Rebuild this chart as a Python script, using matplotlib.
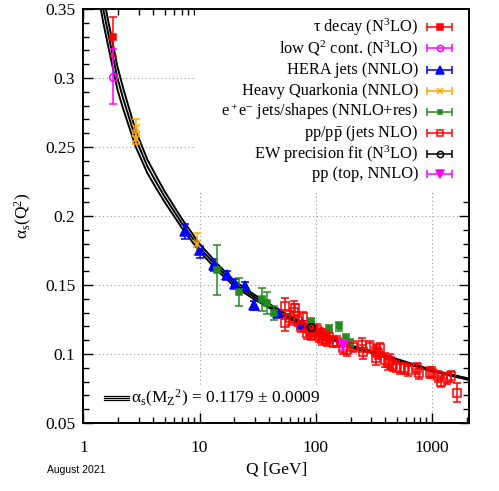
import matplotlib
matplotlib.use("Agg")
import matplotlib.pyplot as plt
from matplotlib.patches import Rectangle

plt.rcParams['font.family'] = ['Liberation Serif', 'DejaVu Serif']
plt.rcParams['mathtext.fontset'] = 'custom'
plt.rcParams['mathtext.rm'] = 'Liberation Serif'
plt.rcParams['mathtext.it'] = 'Liberation Serif:italic'

# running coupling band
curve_q = [1.40, 1.48, 1.6, 1.77, 1.96, 2.2, 2.5, 2.82, 3.2, 3.55, 4.2, 5.0, 7.0, 10, 15,
           20, 30, 50, 91.2, 150, 200, 300, 500, 700, 1000, 1500, 2100]
curve_mid = [0.362, 0.350, 0.336, 0.318, 0.300, 0.285, 0.270, 0.256, 0.245, 0.236, 0.225,
             0.214, 0.195, 0.177, 0.161, 0.151, 0.141, 0.130, 0.1185, 0.110, 0.1055,
             0.1015, 0.0957, 0.0920, 0.0880, 0.0845, 0.0817]
curve_err = [0.0105, 0.0097, 0.0093, 0.0088, 0.0083, 0.0075, 0.0066, 0.0059, 0.0053,
             0.0049, 0.0044, 0.0039, 0.0033, 0.0028, 0.0023, 0.0020, 0.0017, 0.0013,
             0.0010, 0.0009, 0.0008, 0.0007, 0.0007, 0.0006, 0.0006, 0.0005, 0.0005]

# measurements: Q, alpha_s, lower error, upper error
tau_q = [1.78]
tau_a = [0.330]
tau_lo = [0.014]
tau_hi = [0.014]

lowq_q = [1.78]
lowq_a = [0.301]
lowq_lo = [0.020]
lowq_hi = [0.020]

hera_q = [7.5, 10.1, 13.2, 17.3, 20.2, 24.7, 29.5, 47.8, 76]
hera_a = [0.189, 0.1754, 0.1645, 0.157, 0.151, 0.149, 0.1352, 0.130, 0.122]
hera_lo = [0.0055, 0.006, 0.004, 0.003, 0.003, 0.003, 0.003, 0.002, 0.002]
hera_hi = [0.0055, 0.003, 0.004, 0.003, 0.003, 0.003, 0.003, 0.002, 0.002]

quark_q = [2.82, 2.86, 9.46]
quark_a = [0.264, 0.256, 0.180]
quark_lo = [0.006, 0.004, 0.008]
quark_hi = [0.006, 0.004, 0.008]

ee_q = [14.1, 22.0, 34.4, 38, 43.9, 91.2, 131.6, 160, 183, 198]
ee_a = [0.161, 0.145, 0.140, 0.137, 0.1295, 0.123, 0.118, 0.120, 0.1114, 0.108]
ee_lo = [0.018, 0.010, 0.009, 0.008, 0.005, 0.003, 0.003, 0.003, 0.003, 0.003]
ee_hi = [0.018, 0.010, 0.008, 0.008, 0.005, 0.003, 0.003, 0.003, 0.003, 0.003]

pp_q = [54.6, 54.6, 60, 65.3, 66.7, 70, 75.5, 77.7, 84, 88, 92, 95, 102, 107.5, 110,
        113, 120, 125, 131, 140, 152, 171, 185, 210, 249, 254, 296, 331, 331, 348,
        359, 398, 418, 437, 465, 496, 530, 584, 624, 744, 777, 968, 1013, 1145,
        1212, 1360, 1475, 1650]
pp_a = [0.1348, 0.1227, 0.126, 0.1307, 0.1335, 0.124, 0.1198, 0.1266, 0.115, 0.118,
        0.1138, 0.116, 0.1174, 0.113, 0.115, 0.1106, 0.1138, 0.110, 0.1125, 0.109,
        0.109, 0.104, 0.1029, 0.1053, 0.1065, 0.1017, 0.1053, 0.1024, 0.0969, 0.1005,
        0.1041, 0.0957, 0.0933, 0.0951, 0.092, 0.0908, 0.0896, 0.0896, 0.0884, 0.0896,
        0.086, 0.0864, 0.0864, 0.084, 0.0799, 0.0824, 0.084, 0.072]
pp_err = [0.006, 0.006, 0.005, 0.008, 0.003, 0.004, 0.004, 0.004, 0.004, 0.004,
          0.004, 0.004, 0.004, 0.004, 0.004, 0.004, 0.004, 0.004, 0.004, 0.004,
          0.004, 0.004, 0.004, 0.004, 0.005, 0.005, 0.004, 0.004, 0.005, 0.004,
          0.004, 0.005, 0.005, 0.005, 0.004, 0.004, 0.004, 0.004, 0.004, 0.004,
          0.004, 0.004, 0.004, 0.004, 0.004, 0.004, 0.004, 0.007]

ew_q = [91.2]
ew_a = [0.1198]
ew_err = [0.0035]

top_q = [171.6]
top_a = [0.1065]
top_err = [0.0035]

legend_labels = ["τ decay (N$^3$LO)",
                 "low Q$^2$ cont. (N$^3$LO)",
                 "HERA jets (NNLO)",
                 "Heavy Quarkonia (NNLO)",
                 "e$^+$e$^{-}$ jets/shapes (NNLO+res)",
                 r"pp/p$\bar{\rm p}$ (jets NLO)",
                 "EW precision fit (N$^3$LO)",
                 "pp (top, NNLO)"]

styles = [
    dict(color='#ff0000', marker='s', ms=5, mfc='#ff0000'),
    dict(color='#ff00ff', marker='o', ms=5.5, mfc='none'),
    dict(color='#0000ff', marker='^', ms=6.5, mfc='#0000ff'),
    dict(color='#ffa500', marker='x', ms=5.5, mfc='none'),
    dict(color='#228b22', marker='s', ms=4.5, mfc='#228b22'),
    dict(color='#ff0000', marker='s', ms=5.8, mfc='none'),
    dict(color='#000000', marker='o', ms=5.5, mfc='none'),
    dict(color='#ff00ff', marker='v', ms=6.5, mfc='#ff00ff'),
]

series = [
    (tau_q, tau_a, [tau_lo, tau_hi]),
    (lowq_q, lowq_a, [lowq_lo, lowq_hi]),
    (hera_q, hera_a, [hera_lo, hera_hi]),
    (quark_q, quark_a, [quark_lo, quark_hi]),
    (ee_q, ee_a, [ee_lo, ee_hi]),
    (pp_q, pp_a, pp_err),
    (ew_q, ew_a, ew_err),
    (top_q, top_a, top_err),
]

fig = plt.figure(figsize=(4.99, 4.91), dpi=100)
ax = fig.add_axes([0.1673, 0.1385, 0.7726, 0.8432])
ax.set_xscale('log')
ax.set_xlim(1, 2100)
ax.set_ylim(0.05, 0.35)
ax.set_axisbelow(True)
ax.grid(True, which='major', ls=(0, (1, 2.5)), color='#999999', lw=0.8)

# opaque key box covers the grid
ax.add_patch(Rectangle((0.289, 0.563), 0.711, 0.437, transform=ax.transAxes,
                       fc='white', ec='none', zorder=1))

upper = [m + e for m, e in zip(curve_mid, curve_err)]
lower = [m - e for m, e in zip(curve_mid, curve_err)]
for c in (upper, curve_mid, lower):
    ax.plot(curve_q, c, color='black', lw=1.4, zorder=2)

for (q, a, err), st in zip(series, styles):
    ax.errorbar(q, a, yerr=err, fmt='none', ecolor=st['color'], elinewidth=1.1,
                capsize=3, capthick=1.1, zorder=3)
    ax.plot(q, a, ls='none', marker=st['marker'], ms=st['ms'], mfc=st['mfc'],
            mec=st['color'], mew=1.1, zorder=4)

# key
key_y = [0.9565, 0.9046, 0.8527, 0.8019, 0.7512, 0.7005, 0.6498, 0.6014]
for lab, st, yy in zip(legend_labels, styles, key_y):
    ax.text(0.8677, yy, lab, transform=ax.transAxes, ha='right', va='center',
            fontsize=11.8, zorder=6)
    ax.errorbar([0.9235], [yy], xerr=[0.0324], transform=ax.transAxes, fmt='none',
                ecolor=st['color'], elinewidth=1.1, capsize=3, capthick=1.1,
                zorder=6, clip_on=False)
    ax.plot([0.9235], [yy], transform=ax.transAxes, ls='none', marker=st['marker'],
            ms=st['ms'] - 1, mfc=st['mfc'], mec=st['color'], mew=1.1, zorder=7)

# world average label
ax.add_patch(Rectangle((0.054, 0.036), 0.57, 0.05, transform=ax.transAxes,
                       fc='white', ec='none', zorder=1))
for dy in (-0.0048, 0.0, 0.0048):
    ax.plot([0.054, 0.119], [0.0604 + dy] * 2, transform=ax.transAxes,
            color='black', lw=0.9, zorder=5)
ax.text(0.124, 0.0604, "α${}_{\\rm s}$(M${}_{\\rm Z}$${}^{2}$) = 0.1179 ± 0.0009",
        transform=ax.transAxes, ha='left', va='center', fontsize=12.5, zorder=6)

ax.set_yticks([0.05, 0.1, 0.15, 0.2, 0.25, 0.3, 0.35])
ax.set_yticklabels(['0.05', '0.1', '0.15', '0.2', '0.25', '0.3', '0.35'])
ax.set_yticks([i / 100 for i in range(5, 36)], minor=True)
ax.set_xticks([1, 10, 100, 1000])
ax.set_xticklabels(['1', '10', '100', '1000'])
ax.tick_params(which='both', direction='in', top=True, right=True, labelsize=12.5,
               width=1.0)
ax.tick_params(which='major', length=7)
ax.tick_params(which='minor', length=4)
ax.tick_params(axis='x', which='major', pad=12)
ax.tick_params(axis='y', which='major', pad=6)
for s in ax.spines.values():
    s.set_linewidth(1.4)

ax.set_xlabel('Q [GeV]', fontsize=12.5, labelpad=4)
ax.set_ylabel("α${}_{\\rm s}$(Q$^2$)", fontsize=12.5, labelpad=8)

fig.text(0.153, 0.043, 'August 2021', family='Liberation Sans', fontsize=7.5,
         ha='center', va='center')

fig.savefig('out.png', dpi=100)
